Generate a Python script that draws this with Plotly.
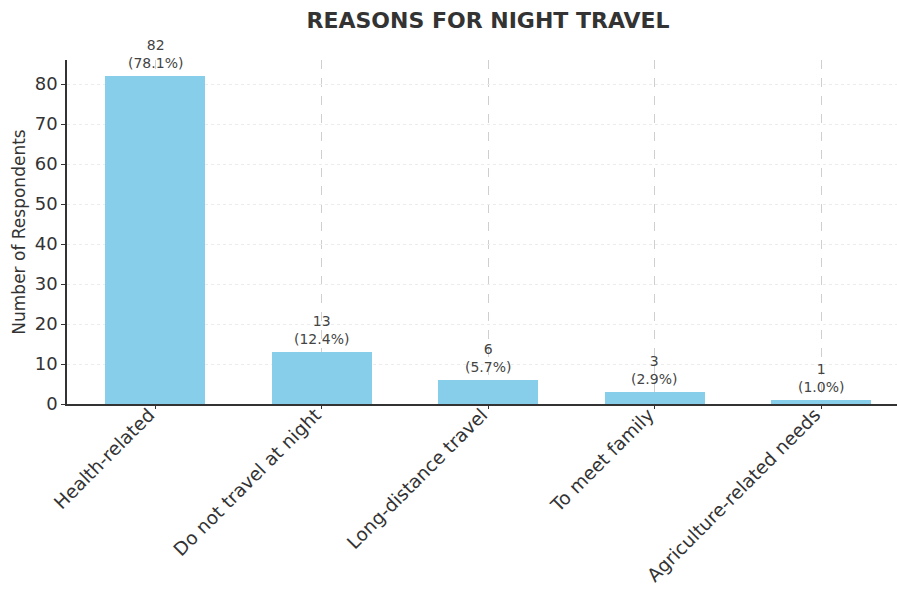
import plotly.graph_objects as go

reasons = [
    "Health-related",
    "Do not travel at night",
    "Long-distance travel",
    "To meet family",
    "Agriculture-related needs",
]
respondents = [82, 13, 6, 3, 1]
y_ticks = [0, 10, 20, 30, 40, 50, 60, 70, 80]

total = sum(respondents)
positions = list(range(len(reasons)))

fig = go.Figure()
fig.add_trace(go.Bar(
    x=positions,
    y=respondents,
    width=0.6,
    marker=dict(color="#87CEEB", line=dict(width=0)),
    hoverinfo="skip",
))

for pos, val in zip(positions, respondents):
    pct = val / total * 100
    fig.add_annotation(
        x=pos, y=val, text=f"{val}<br>({pct:.1f}%)",
        showarrow=False, yanchor="bottom", yshift=3,
        font=dict(family="DejaVu Sans", size=14, color="#444444"),
    )

font_main = dict(family="DejaVu Sans", size=18, color="#333333")

fig.update_layout(
    width=897, height=590,
    margin=dict(l=67, r=0, t=60, b=186),
    plot_bgcolor="white", paper_bgcolor="white",
    showlegend=False,
    bargap=0,
    title=dict(
        text="<b>REASONS FOR NIGHT TRAVEL</b>",
        x=(67 + 909) / 2 / 897, xanchor="center",
        y=1 - 20 / 590, yanchor="middle",
        font=dict(family="DejaVu Sans", size=22, color="#333333"),
    ),
    font=font_main,
)

fig.update_xaxes(
    range=[-0.53, 4.456],
    automargin=False,
    tickmode="array", tickvals=positions, ticktext=reasons,
    tickangle=-45, tickfont=dict(family="DejaVu Sans", size=18.5, color="#333333"),
    ticklabelstandoff=-12, ticklabelshift=-6,
    showgrid=True, gridcolor="#cfcfcf", griddash="dash", gridwidth=1,
    showline=True, linecolor="#333333", linewidth=1.6,
    ticks="outside", ticklen=3, tickcolor="#333333",
    zeroline=False,
)
fig.update_yaxes(
    range=[0, 86],
    automargin=False,
    tickmode="array", tickvals=y_ticks,
    tickfont=font_main,
    title=dict(text="Number of Respondents", font=dict(family="DejaVu Sans", size=17, color="#333333"), standoff=5),
    showgrid=True, gridcolor="#ececec", griddash="dot", gridwidth=1.2,
    showline=True, linecolor="#333333", linewidth=1.6,
    ticks="outside", ticklen=4, tickcolor="#333333",
    zeroline=False,
)

fig.write_html("out.html")
